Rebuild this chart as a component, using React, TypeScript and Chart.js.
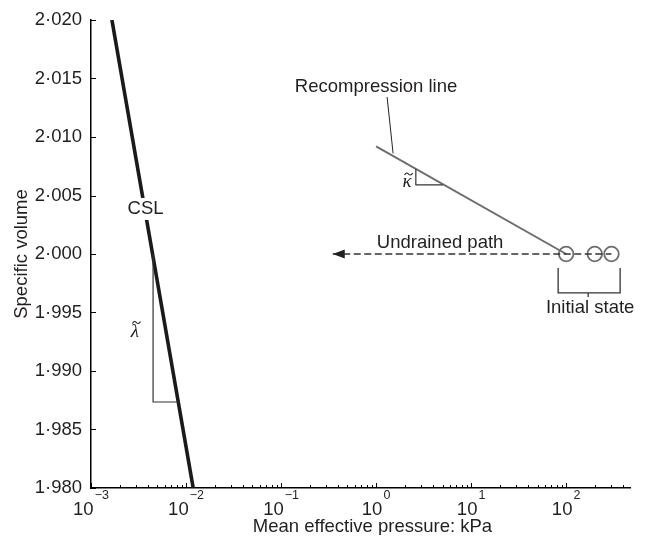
import React, { useEffect, useRef } from 'react';
import { Chart, registerables } from 'chart.js';

Chart.register(...registerables);

// ---------- data ----------
const yTickValues = [1.98, 1.985, 1.99, 1.995, 2.0, 2.005, 2.01, 2.015, 2.02];
const xTickValues = [1e-3, 1e-2, 1e-1, 1, 10, 100];
const xTickBase = ['10', '10', '10', '10', '10', '10'];
const xTickExponents = ['−3', '−2', '−1', '0', '1', '2'];

const cslP = [0.00166, 0.0119];
const cslV = [2.02, 1.98];

const lambdaTriP = [0.0045, 0.0045, 0.0083];
const lambdaTriV = [2.0, 1.98735, 1.98735];

const recompP = [1, 100];
const recompV = [2.0092, 2.0];

const kappaTriP = [2.62, 2.62, 5.04];
const kappaTriV = [2.00726, 2.0059, 2.0059];

const leaderP = [1.306, 1.51];
const leaderV = [2.01342, 2.0086];

const undrainedP = [0.35, 300];
const undrainedV = [2.0, 2.0];

const initialP = [100, 200, 300];
const initialV = [2.0, 2.0, 2.0];

const bracketP = [82.4, 82.4, 370, 370];
const bracketV = [1.9988, 1.99667, 1.99667, 1.9988];
const bracketTickP = [170.6, 170.6];
const bracketTickV = [1.99667, 1.99632];

const labelTexts = ['CSL', 'Recompression line', 'Undrained path', 'Initial state'];
const labelP = [0.00375, 1.0, 4.72, 179];
const labelV = [2.00385, 2.01427, 2.00094, 1.99538];

const greekTexts = ['λ', 'κ'];
const greekP = [0.0029, 2.12];
const greekV = [1.9935, 2.00615];

const xTitle = 'Mean effective pressure: kPa';
const yTitle = 'Specific volume';

// ---------- styles ----------
const SANS = '"Liberation Sans", Arial, Helvetica, sans-serif';
const SERIF = '"Liberation Serif", "DejaVu Serif", serif';
const TEXT = '#231f20';
const FS = 18.5;

const pts = (p: number[], v: number[]) => p.map((x, i) => ({ x, y: v[i] }));

const overlay = {
  id: 'overlay',
  afterDatasetsDraw(chart: any) {
    const { ctx, chartArea, scales } = chart;
    const x = scales.x;
    const y = scales.y;
    ctx.save();

    // inward tick marks
    ctx.strokeStyle = '#000';
    ctx.lineWidth = 1;
    for (const v of yTickValues) {
      const py = Math.round(y.getPixelForValue(v)) + 0.5;
      ctx.beginPath();
      ctx.moveTo(chartArea.left, py);
      ctx.lineTo(chartArea.left + 5, py);
      ctx.stroke();
    }
    for (let e = -3; e <= 2; e++) {
      for (let d = 1; d <= 9; d++) {
        const v = d * Math.pow(10, e);
        if (v > x.max) break;
        const px = Math.round(x.getPixelForValue(v)) + 0.5;
        const len = d === 1 ? 5 : 3;
        ctx.beginPath();
        ctx.moveTo(px, chartArea.bottom);
        ctx.lineTo(px, chartArea.bottom - len);
        ctx.stroke();
      }
    }

    // x tick labels with superscript exponents
    ctx.fillStyle = TEXT;
    ctx.textBaseline = 'alphabetic';
    xTickValues.forEach((v, i) => {
      const px = x.getPixelForValue(v);
      ctx.font = `${FS}px ${SANS}`;
      const wb = ctx.measureText(xTickBase[i]).width;
      ctx.font = `12.5px ${SANS}`;
      const we = ctx.measureText(xTickExponents[i]).width;
      const start = px - (wb + we + 1) / 2;
      ctx.font = `${FS}px ${SANS}`;
      ctx.textAlign = 'left';
      ctx.fillText(xTickBase[i], start, chartArea.bottom + 27);
      ctx.font = `12.5px ${SANS}`;
      ctx.fillText(xTickExponents[i], start + wb + 1, chartArea.bottom + 11);
    });

    // x axis title
    ctx.font = `${FS}px ${SANS}`;
    ctx.textAlign = 'center';
    ctx.textBaseline = 'middle';
    ctx.fillText(xTitle, (chartArea.left + chartArea.right) / 2 + 12, chartArea.bottom + 39);

    // arrow head of undrained path
    const ax = x.getPixelForValue(undrainedP[0]);
    const ay = y.getPixelForValue(undrainedV[0]);
    ctx.fillStyle = '#222';
    ctx.beginPath();
    ctx.moveTo(ax, ay);
    ctx.lineTo(ax + 12, ay - 4.5);
    ctx.lineTo(ax + 12, ay + 4.5);
    ctx.closePath();
    ctx.fill();

    // annotation texts
    labelTexts.forEach((t, i) => {
      const px = x.getPixelForValue(labelP[i]);
      const py = y.getPixelForValue(labelV[i]);
      ctx.font = `${FS}px ${SANS}`;
      ctx.textAlign = 'center';
      ctx.textBaseline = 'middle';
      if (i === 0) {
        const w = ctx.measureText(t).width;
        ctx.fillStyle = '#fff';
        ctx.fillRect(px - w / 2 - 2, py - 11, w + 4, 22);
      }
      ctx.fillStyle = TEXT;
      ctx.fillText(t, px, py);
    });

    // greek symbols with tilde accents
    greekTexts.forEach((t, i) => {
      const px = x.getPixelForValue(greekP[i]);
      const py = y.getPixelForValue(greekV[i]);
      const isLambda = t === 'λ';
      const base = py + (isLambda ? 6.5 : 4.5);
      ctx.fillStyle = TEXT;
      ctx.textAlign = 'center';
      ctx.textBaseline = 'alphabetic';
      ctx.font = `italic 19px ${SERIF}`;
      ctx.fillText(t, px, base);
      // tilde accent
      const cx = px + 1.5;
      const cy = base - (isLambda ? 14 : 12.5);
      ctx.strokeStyle = TEXT;
      ctx.lineWidth = 1.1;
      ctx.beginPath();
      ctx.moveTo(cx - 4, cy + 1);
      ctx.bezierCurveTo(cx - 2.5, cy - 2, cx - 1, cy - 1, cx, cy);
      ctx.bezierCurveTo(cx + 1, cy + 1, cx + 2.5, cy + 2, cx + 4, cy - 1);
      ctx.stroke();
    });

    ctx.restore();
  },
};

export default function App() {
  const ref = useRef<HTMLCanvasElement>(null);

  useEffect(() => {
    if (!ref.current) return;
    const thin = { showLine: true, pointRadius: 0, borderColor: '#333', borderWidth: 1.2, fill: false };
    const chart = new Chart(ref.current, {
      type: 'scatter',
      data: {
        datasets: [
          { ...thin, data: pts(lambdaTriP, lambdaTriV) },
          { ...thin, data: pts(kappaTriP, kappaTriV) },
          { ...thin, borderWidth: 1, borderColor: '#222', data: pts(leaderP, leaderV) },
          { ...thin, borderColor: '#333', borderWidth: 1.3, borderDash: [7, 3.5], data: pts(undrainedP, undrainedV) },
          { ...thin, borderWidth: 1.3, data: pts(bracketP, bracketV) },
          { ...thin, borderWidth: 1.3, data: pts(bracketTickP, bracketTickV) },
          { showLine: true, pointRadius: 0, borderColor: '#6d6d6d', borderWidth: 2, data: pts(recompP, recompV) },
          { showLine: true, pointRadius: 0, borderColor: '#1a1a1a', borderWidth: 3.6, data: pts(cslP, cslV) },
          {
            showLine: false,
            pointRadius: 7.3,
            pointStyle: 'circle',
            borderColor: '#6d6d6d',
            backgroundColor: 'rgba(0,0,0,0)',
            pointBorderWidth: 1.8,
            borderWidth: 1.8,
            data: pts(initialP, initialV),
          },
        ],
      },
      options: {
        animation: false,
        responsive: false,
        events: [],
        layout: { padding: { top: 12, right: 10, left: 0, bottom: 0 } },
        plugins: { legend: { display: false }, tooltip: { enabled: false } },
        scales: {
          x: {
            type: 'logarithmic',
            position: 'bottom',
            min: 0.001,
            max: 470,
            grid: { display: false, drawTicks: false },
            ticks: { display: false },
            border: { display: true, color: '#000', width: 1.5 },
            afterFit: (s: any) => {
              s.height = 47;
              s.paddingLeft = 0;
              s.paddingRight = 0;
            },
          },
          y: {
            type: 'linear',
            position: 'left',
            min: 1.98,
            max: 2.02,
            afterBuildTicks: (s: any) => {
              s.ticks = yTickValues.map((v) => ({ value: v }));
            },
            ticks: {
              padding: 9,
              color: TEXT,
              font: { family: SANS, size: FS },
              callback: (v: any) => Number(v).toFixed(3).replace('.', '·'),
            },
            grid: { display: false, drawTicks: false },
            border: { display: true, color: '#000', width: 1.5 },
            title: {
              display: true,
              text: yTitle,
              color: TEXT,
              font: { family: SANS, size: FS },
              padding: { top: 3, bottom: 0 },
            },
            afterFit: (s: any) => {
              s.width = 83;
              s.paddingTop = 0;
              s.paddingBottom = 0;
            },
          },
        },
      },
      plugins: [overlay],
    } as any);
    return () => chart.destroy();
  }, []);

  return (
    <div style={{ width: 632, height: 527 }}>
      <canvas ref={ref} width={632} height={527} style={{ display: 'block' }} />
    </div>
  );
}
